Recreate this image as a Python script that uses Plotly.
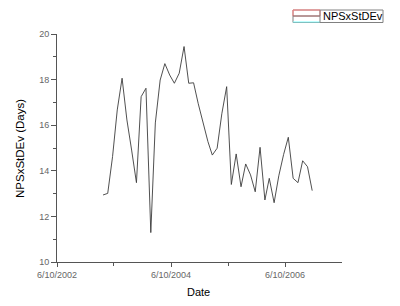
import plotly.graph_objects as go
import pandas as pd

# Monthly series, Apr 2003 .. Dec 2006
dates = pd.date_range("2003-04-01", periods=45, freq="MS").strftime("%Y-%m-%d").tolist()
values = [
    12.94, 13.01, 14.62, 16.67, 18.06, 16.23, 14.91, 13.48, 17.25, 17.62,
    11.29, 16.10, 17.98, 18.70, 18.20, 17.84, 18.28, 19.45, 17.84, 17.86,
    16.94, 16.10, 15.28, 14.69, 14.99, 16.50, 17.69, 13.40, 14.74, 13.30,
    14.30, 13.82, 13.08, 15.03, 12.72, 13.67, 12.60, 13.78, 14.72, 15.47,
    13.67, 13.48, 14.44, 14.18, 13.13,
]
series_name = "NPSxStDEv"

x_range = ["2002-06-10", "2007-06-10"]
x_major = ["2002-06-10", "2004-06-10", "2006-06-10"]
x_major_text = ["6/10/2002", "6/10/2004", "6/10/2006"]
x_minor = ["2003-06-10", "2005-06-10"]
y_major = [10, 12, 14, 16, 18, 20]

FONT = "Liberation Sans, Arial, sans-serif"
AX = "#555555"

fig = go.Figure()
fig.add_trace(go.Scatter(
    x=dates, y=values, mode="lines", name=series_name,
    line=dict(color="#3c3c3c", width=0.9), showlegend=False,
))

fig.update_layout(
    width=400, height=306,
    margin=dict(l=57, r=58, t=34, b=44),
    paper_bgcolor="white", plot_bgcolor="white",
    font=dict(family=FONT, size=9, color="#666666"),
    xaxis=dict(
        type="date", range=x_range, showgrid=False, zeroline=False,
        showline=True, linecolor=AX, linewidth=1,
        tickmode="array", tickvals=x_major, ticktext=x_major_text,
        ticks="outside", ticklen=4, tickcolor=AX, tickwidth=1,
        tickfont=dict(family=FONT, size=9, color="#666666"),
        minor=dict(tickmode="array", tickvals=x_minor, ticks="outside",
                   ticklen=3, tickcolor=AX),
    ),
    yaxis=dict(
        range=[10, 20], showgrid=False, zeroline=False,
        showline=True, linecolor=AX, linewidth=1,
        tickmode="array", tickvals=y_major,
        ticks="outside", ticklen=5, tickcolor=AX, tickwidth=1,
        tickfont=dict(family=FONT, size=9, color="#666666"),
        minor=dict(dtick=1, ticks="outside", ticklen=3, tickcolor=AX),
    ),
    annotations=[
        dict(text="Date", xref="paper", yref="paper", x=0.495, y=-0.13,
             xanchor="center", yanchor="middle", showarrow=False,
             font=dict(family=FONT, size=11, color="black")),
        dict(text="NPSxStDEv (Days)", xref="paper", yref="paper",
             x=-0.13, y=0.5, xanchor="center", yanchor="middle",
             textangle=-90, showarrow=False,
             font=dict(family=FONT, size=11.5, color="black")),
        dict(text=series_name, xref="paper", yref="paper",
             x=(320.5 - 57) / 285, y=(262 - 16) / 228, xanchor="left",
             yanchor="middle", showarrow=False,
             font=dict(family=FONT, size=11, color="black")),
    ],
    shapes=[
        # legend box
        dict(type="rect", xref="paper", yref="paper",
             x0=(293 - 57) / 285, x1=(383 - 57) / 285,
             y0=(262 - 22.5) / 228, y1=(262 - 10) / 228,
             line=dict(color="#808080", width=1), fillcolor="rgba(0,0,0,0)"),
        dict(type="rect", xref="paper", yref="paper",
             x0=(293 - 57) / 285, x1=(320 - 57) / 285,
             y0=(262 - 16) / 228, y1=(262 - 10) / 228,
             line=dict(color="#ff8080", width=1), fillcolor="rgba(0,0,0,0)"),
        dict(type="line", xref="paper", yref="paper",
             x0=(293 - 57) / 285, x1=(320 - 57) / 285,
             y0=(262 - 16) / 228, y1=(262 - 16) / 228,
             line=dict(color="#707070", width=1)),
        dict(type="line", xref="paper", yref="paper",
             x0=(293 - 57) / 285, x1=(320 - 57) / 285,
             y0=(262 - 22) / 228, y1=(262 - 22) / 228,
             line=dict(color="#80ffff", width=1)),
        dict(type="line", xref="paper", yref="paper",
             x0=(320 - 57) / 285, x1=(320 - 57) / 285,
             y0=(262 - 22.5) / 228, y1=(262 - 10) / 228,
             line=dict(color="#808080", width=1)),
    ],
)

fig.write_html("out.html")
